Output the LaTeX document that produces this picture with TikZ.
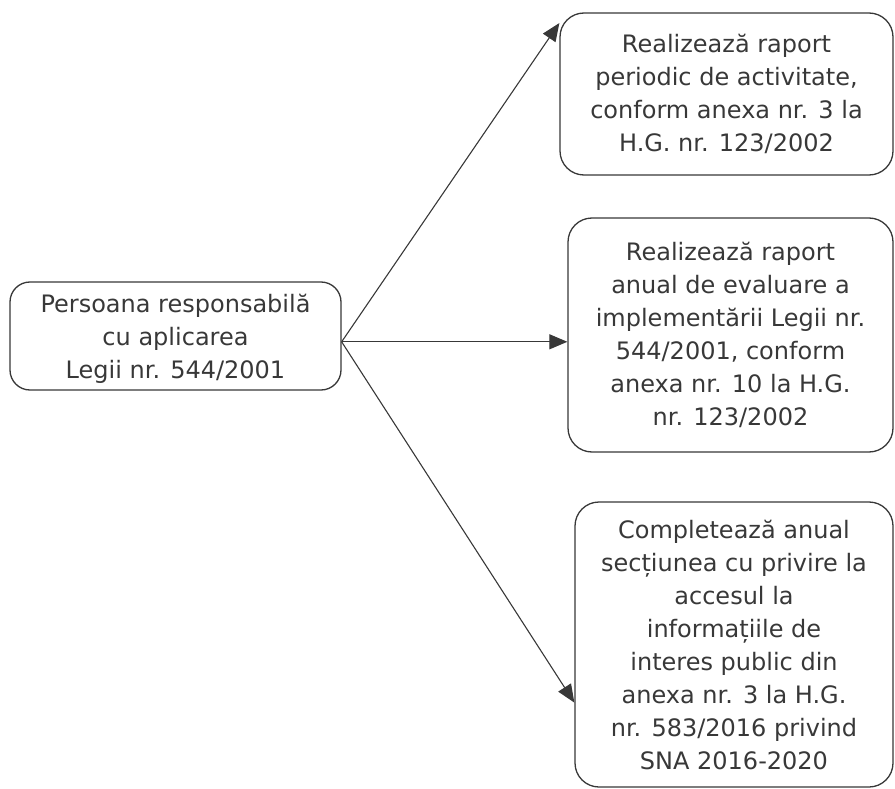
\documentclass[tikz,border=0pt]{standalone}
\usepackage{fontspec}
\setmainfont{DejaVu Sans}
\usetikzlibrary{arrows.meta,calc}
\definecolor{ink}{gray}{0.22}
\tikzset{every picture/.append style={x=1pt,y=-1pt}}
\tikzset{box/.style={draw=ink, line width=1.3pt, rounded corners=24pt, align=center, text=ink, inner sep=0pt, font=\fontsize{24}{33}\selectfont}}
\tikzset{link/.style={draw=ink, line width=1.1pt, -{Triangle[length=18pt,width=15pt]}}}

\begin{document}
\begin{tikzpicture}
\useasboundingbox (0,0) rectangle (895,789);

\node (pers) at (175.5,336)[box, minimum width=331pt, minimum height=108pt, rounded corners=20pt, text depth=-3pt]{Persoana responsabilă\\cu aplicarea\\Legii nr. 544/2001};

%the three tasks on the right
\node (rap) at (726.5,94)[box, minimum width=333pt, minimum height=162pt]{Realizează raport\\periodic de activitate,\\conform anexa nr. 3 la\\H.G. nr. 123/2002};
\node (eval) at (730.5,335)[box, minimum width=325pt, minimum height=234pt]{Realizează raport\\anual de evaluare a\\implementării Legii nr.\\544/2001, conform\\anexa nr. 10 la H.G.\\nr. 123/2002};
\node (sna) at (734,644.5)[box, minimum width=318pt, minimum height=285pt]{Completează anual\\secțiunea cu privire la\\accesul la\\informațiile de\\interes public din\\anexa nr. 3 la H.G.\\nr. 583/2016 privind\\SNA 2016-2020};

\draw[link] (pers.-2)--(rap.157.7);
\draw[link] (pers.-2)--(pers.-2 -| eval.west);
\draw[link] (pers.-2)--(sna.200);
\end{tikzpicture}
\end{document}
